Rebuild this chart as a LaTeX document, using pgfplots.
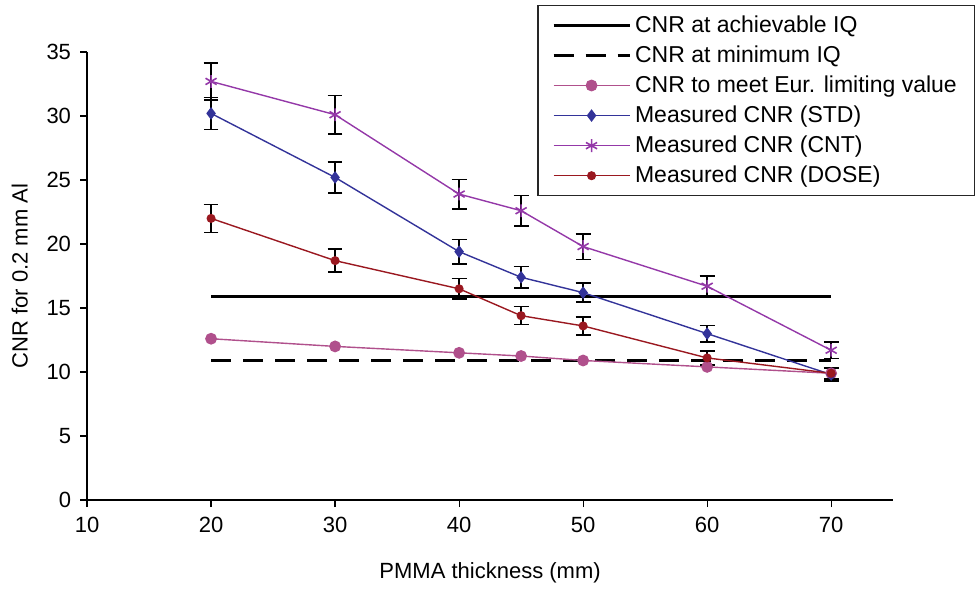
\documentclass[border=0pt]{standalone}
\usepackage{fontspec}
\setmainfont{Liberation Sans}
\usepackage{pgfplots}
\pgfplotsset{compat=1.18}
\definecolor{eurpink}{HTML}{B0508C}
\definecolor{stdblue}{HTML}{333399}
\definecolor{cntpurple}{HTML}{9438A8}
\definecolor{dosered}{HTML}{9A1820}

\begin{document}
\begin{tikzpicture}
\begin{axis}[
  scale only axis,
  width=403pt, height=224pt,
  xmin=10, xmax=75, ymin=0, ymax=35,
  xtick={10,20,...,70}, ytick={0,5,...,35},
  axis x line=bottom, axis y line=left,
  axis line style={-, line width=0.6pt},
  tick align=outside, major tick length=3.5pt,
  tick style={line width=0.6pt, black},
  /pgf/number format/assume math mode=true,
  tick label style={font=\fontsize{11}{13}\selectfont},
  xticklabel style={yshift=-1.5pt},
  yticklabel style={xshift=-1pt},
  label style={font=\fontsize{11}{13}\selectfont},
  xlabel={PMMA thickness (mm)},
  ylabel={CNR for 0.2 mm Al},
  xlabel style={yshift=-8pt},
  ylabel style={yshift=2.5pt},
  clip=false,
  legend style={at={(1.102,1.105)}, anchor=north east, draw=black!85, line width=0.6pt,
    font=\fontsize{11.5}{13}\selectfont, cells={anchor=west}, row sep=1.2pt,
    inner xsep=7pt, inner ysep=3pt},
  legend image code/.code={\draw[mark repeat=2,mark phase=2] plot coordinates {(0pt,0pt) (19pt,0pt) (38pt,0pt)};},
  error bars/error bar style={black, line width=0.75pt},
  error bars/error mark options={black, rotate=90, mark size=3.7pt, line width=0.75pt},
]
% frame of the whole picture, as in the reference
\path (rel axis cs:-0.108,-0.19) rectangle (rel axis cs:1.104,1.116);
% CNR at achievable IQ
\addplot[black, line width=1.5pt] coordinates {(20,15.9) (70,15.9)};
\addlegendentry{CNR at achievable IQ}
% CNR at minimum IQ
\addplot[black, line width=1.5pt, dash pattern=on 10pt off 6pt] coordinates {(20,10.9) (70,10.9)};
\addlegendentry{CNR at minimum IQ}
% CNR to meet Eur. limiting value
\addplot[eurpink, line width=0.7pt, mark=*, mark size=2.6pt, mark options={fill=eurpink, draw=eurpink}] coordinates {
  (20,12.6) (30,12.0) (40,11.5) (45,11.25) (50,10.9) (60,10.4) (70,9.9)};
\addlegendentry{CNR to meet Eur. limiting value}
% Measured STD
\addplot[stdblue, line width=0.7pt, mark=diamond*, mark size=2.6pt, mark options={fill=stdblue},
  error bars/.cd, y dir=both, y explicit] coordinates {
  (20,30.2) +- (0,1.25)
  (30,25.2) +- (0,1.2)
  (40,19.4) +- (0,0.95)
  (45,17.4) +- (0,0.85)
  (50,16.2) +- (0,0.75)
  (60,13.0) +- (0,0.65)
  (70,9.8) +- (0,0.5)};
\addlegendentry{Measured CNR (STD)}
% Measured CNT
\addplot[cntpurple, line width=0.7pt, mark=asterisk, mark size=3.2pt, mark options={line width=0.8pt},
  error bars/.cd, y dir=both, y explicit] coordinates {
  (20,32.7) +- (0,1.45)
  (30,30.1) +- (0,1.5)
  (40,23.9) +- (0,1.15)
  (45,22.6) +- (0,1.2)
  (50,19.8) +- (0,1.0)
  (60,16.7) +- (0,0.8)
  (70,11.7) +- (0,0.65)};
\addlegendentry{Measured CNR (CNT)}
% Measured DOSE
\addplot[dosered, line width=0.7pt, mark=*, mark size=1.9pt, mark options={fill=dosered},
  error bars/.cd, y dir=both, y explicit] coordinates {
  (20,22.0) +- (0,1.1)
  (30,18.7) +- (0,0.9)
  (40,16.5) +- (0,0.8)
  (45,14.4) +- (0,0.7)
  (50,13.6) +- (0,0.7)
  (60,11.1) +- (0,0.55)
  (70,9.9) +- (0,0.45)};
\addlegendentry{Measured CNR (DOSE)}
\end{axis}
\end{tikzpicture}
\end{document}
